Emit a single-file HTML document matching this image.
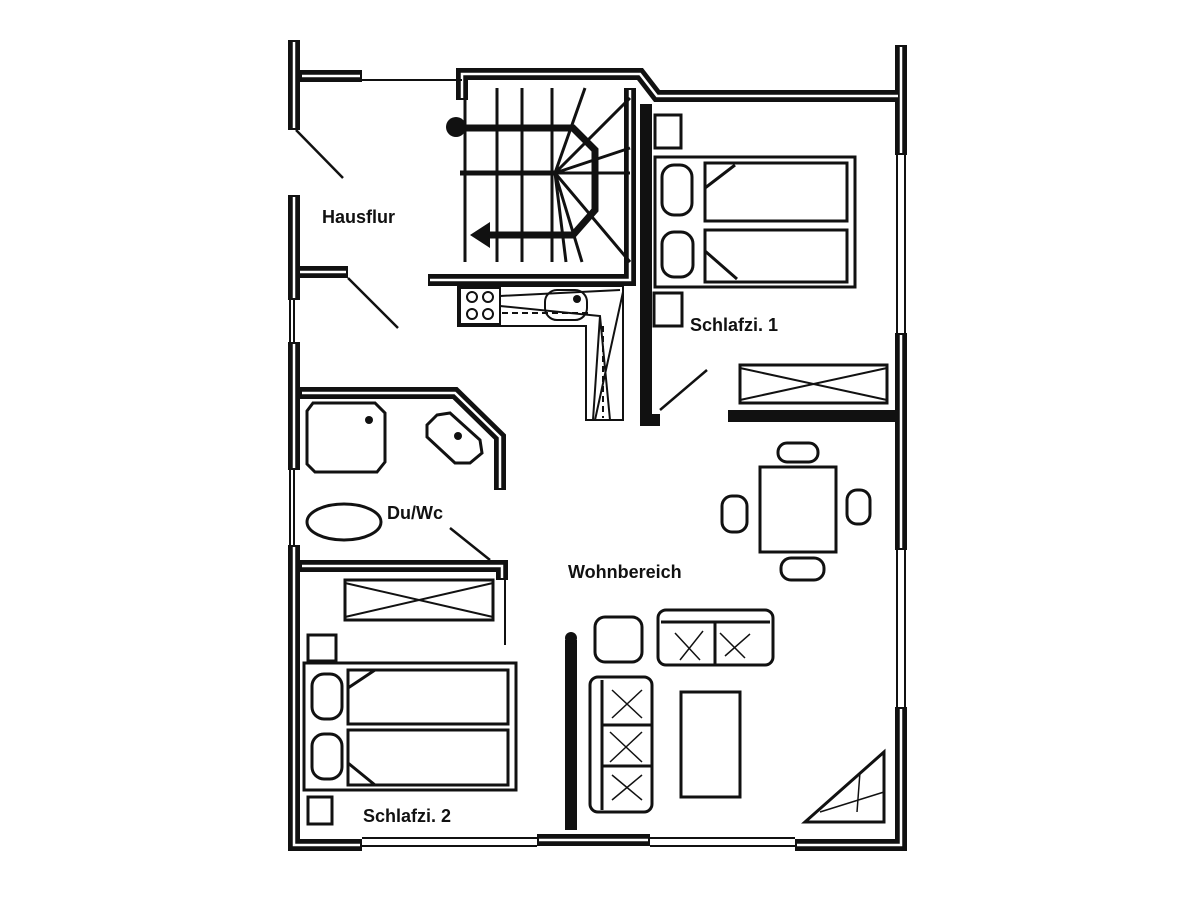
<!DOCTYPE html>
<html><head><meta charset="utf-8"><style>
html,body{margin:0;padding:0;background:#fff;}
svg{display:block}
text{font-family:"Liberation Sans",Arial,sans-serif;font-weight:bold;fill:#111}
</style></head><body>
<svg width="1200" height="900" viewBox="0 0 1200 900" xmlns="http://www.w3.org/2000/svg">
<rect width="1200" height="900" fill="#fff"/>
<g fill="none" stroke="#111" stroke-linejoin="miter" stroke-linecap="butt">
<g stroke-width="12">
 <path d="M294,40 V130"/>
 <path d="M300,76 H362"/>
 <path d="M294,195 V300"/>
 <path d="M294,342 V470"/>
 <path d="M294,545 V845 H362"/>
 <path d="M462,100 V74 H640 L657,96 H900"/>
 <path d="M901,45 V155"/>
 <path d="M901,333 V550"/>
 <path d="M901,707 V845 H795"/>
 <path d="M537,840 H650"/>
 <path d="M630,88 V280 H428"/>
 <path d="M646,104 V420 H660"/>
 <path d="M728,416 H895"/>
 <path d="M300,272 H348"/>
 <path d="M300,393 H455 L500,437 V490"/>
 <path d="M300,566 H502 V580"/>
 <path d="M571,640 V830"/>
</g>
<g stroke="#fff" stroke-width="2.5">
 <path d="M294,42 V128"/>
 <path d="M302,76 H360"/>
 <path d="M294,197 V298"/>
 <path d="M294,344 V468"/>
 <path d="M294,547 V845 H360"/>
 <path d="M462,98 V74 H640 L657,96 H898"/>
 <path d="M901,47 V153"/>
 <path d="M901,335 V548"/>
 <path d="M901,709 V845 H797"/>
 <path d="M539,840 H648"/>
 <path d="M630,90 V280 H430"/>
 <path d="M300,272 H346"/>
 <path d="M302,393 H455 L500,437 V488"/>
 <path d="M302,566 H502 V578"/>
</g>
<circle cx="571" cy="638" r="6" fill="#111" stroke="none"/>
<g stroke-width="2">
 <path d="M362,80 H462"/>
 <path d="M294,300 V342 M290,300 V342"/>
 <path d="M294,470 V545 M290,470 V545"/>
 <path d="M362,838 H537 M362,846 H537 M650,838 H795 M650,846 H795"/>
 <path d="M897,155 V333 M905,155 V333 M897,550 V707 M905,550 V707"/>
 <path d="M505,580 V645"/>
</g>
<g stroke-width="2.5">
 <path d="M296,130 L343,178"/>
 <path d="M348,278 L398,328"/>
 <path d="M660,410 L707,370"/>
 <path d="M450,528 L490,560"/>
</g>
<g stroke-width="3">
 <path d="M465,88 V262 M497,88 V262 M522,88 V262 M552,88 V262"/>
 <path d="M555,173 L585,88 M555,173 L630,98 M555,173 L630,148 M555,173 H630 M555,173 L630,262 M555,173 L582,262 M555,173 L566,262"/>
</g>
<path d="M458,128 H573 L595,150 V210 L573,235 H490" stroke-width="7"/>
<path d="M460,173 H555" stroke-width="5"/>
<polygon points="470,235 490,222 490,248" fill="#111" stroke="none"/>
<circle cx="456" cy="127" r="10" fill="#111" stroke="none"/>
<g stroke-width="2">
 <path d="M458,286 H623 V420 H586 V326 H458 Z"/>
 <rect x="460" y="288" width="40" height="36"/>
 <rect x="545" y="290" width="42" height="30" rx="12"/>
 <path d="M500,296 L620,290 M500,306 L600,316 L610,420 M600,316 L593,420 M623,292 L595,420"/>
 <path d="M502,313 H590 M603,326 V418" stroke-dasharray="6,4"/>
 <circle cx="472" cy="297" r="5"/><circle cx="488" cy="297" r="5"/>
 <circle cx="472" cy="314" r="5"/><circle cx="488" cy="314" r="5"/>
</g>
<circle cx="577" cy="299" r="4" fill="#111" stroke="none"/>
<g stroke-width="3">
 <rect x="655" y="115" width="26" height="33"/>
 <rect x="655" y="157" width="200" height="130"/>
 <rect x="705" y="163" width="142" height="58"/>
 <rect x="705" y="230" width="142" height="52"/>
 <rect x="662" y="165" width="30" height="50" rx="12"/>
 <rect x="662" y="232" width="31" height="45" rx="12"/>
 <path d="M705,188 L735,165 M705,251 L737,279"/>
 <rect x="654" y="293" width="28" height="33"/>
 <rect x="740" y="365" width="147" height="38"/>
 <path d="M740,368 L887,400 M740,400 L887,368" stroke-width="2"/>
</g>
<g stroke-width="3">
 <path d="M313,403 H375 L385,413 V462 L377,472 H315 L307,464 V411 Z"/>
 <path d="M437,415 L450,413 L480,440 L482,453 L470,463 L455,463 L427,437 L427,425 Z"/>
 <ellipse cx="344" cy="522" rx="37" ry="18"/>
</g>
<circle cx="369" cy="420" r="4" fill="#111" stroke="none"/>
<circle cx="458" cy="436" r="4" fill="#111" stroke="none"/>
<g stroke-width="3">
 <rect x="345" y="580" width="148" height="40"/>
 <path d="M345,583 L493,617 M345,617 L493,583" stroke-width="2"/>
 <rect x="308" y="635" width="28" height="26"/>
 <rect x="304" y="663" width="212" height="127"/>
 <rect x="348" y="670" width="160" height="54"/>
 <rect x="348" y="730" width="160" height="55"/>
 <rect x="312" y="674" width="30" height="45" rx="12"/>
 <rect x="312" y="734" width="30" height="45" rx="12"/>
 <path d="M348,688 L375,670 M348,763 L375,785"/>
 <rect x="308" y="797" width="24" height="27"/>
</g>
<g stroke-width="3">
 <rect x="760" y="467" width="76" height="85"/>
 <rect x="778" y="443" width="40" height="19" rx="9"/>
 <rect x="781" y="558" width="43" height="22" rx="10"/>
 <rect x="722" y="496" width="25" height="36" rx="10"/>
 <rect x="847" y="490" width="23" height="34" rx="10"/>
 <rect x="595" y="617" width="47" height="45" rx="10"/>
 <rect x="658" y="610" width="115" height="55" rx="8"/>
 <path d="M661,622 H770 M715,622 V665"/>
 <path d="M675,633 L700,660 M703,631 L680,660 M720,633 L745,658 M750,634 L725,656" stroke-width="1.5"/>
 <rect x="590" y="677" width="62" height="135" rx="8"/>
 <path d="M602,680 V810 M602,725 H652 M602,766 H652"/>
 <path d="M612,690 L642,718 M642,690 L612,718 M610,732 L642,762 M642,732 L610,762 M612,775 L642,800 M642,775 L612,800" stroke-width="1.5"/>
 <rect x="681" y="692" width="59" height="105"/>
 <path d="M884,752 V822 H805 Z"/>
 <path d="M820,812 L884,792 M860,772 L857,812" stroke-width="1.5"/>
</g>
</g>
<text x="322" y="223" font-size="18">Hausflur</text>
<text x="690" y="331" font-size="18">Schlafzi. 1</text>
<text x="387" y="519" font-size="18">Du/Wc</text>
<text x="568" y="578" font-size="18">Wohnbereich</text>
<text x="363" y="822" font-size="18">Schlafzi. 2</text>
</svg>
</body></html>
